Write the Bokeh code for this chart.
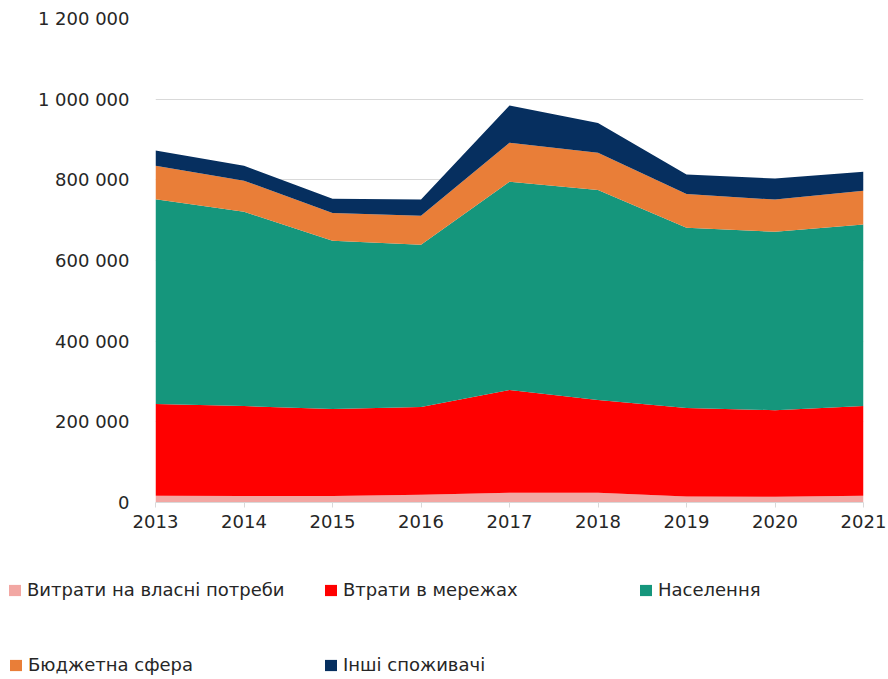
from bokeh.plotting import figure
from bokeh.layouts import column
from bokeh.models import ColumnDataSource, Legend, LegendItem, CustomJSTickFormatter, FixedTicker, Range1d
from bokeh.embed import file_html
from bokeh.resources import INLINE

years = [2013, 2014, 2015, 2016, 2017, 2018, 2019, 2020, 2021]
own_needs = [17000, 16000, 16000, 19000, 24000, 24000, 15000, 14000, 17000]
grid_losses = [227000, 223000, 216000, 218000, 255000, 230000, 219000, 215000, 222000]
population = [508000, 482000, 417000, 402000, 516000, 521000, 447000, 442000, 450000]
budget = [83000, 77000, 69000, 72000, 97000, 92000, 84000, 80000, 84000]
others = [38000, 37000, 35000, 40000, 92000, 74000, 48000, 52000, 47000]

names = ["Витрати на власні потреби", "Втрати в мережах", "Населення", "Бюджетна сфера", "Інші споживачі"]
keys = ["own", "loss", "pop", "bud", "oth"]
colors = ["#F2A7A3", "#FF0000", "#15967C", "#E97E38", "#062F5F"]
y_ticks = [0, 200000, 400000, 600000, 800000, 1000000, 1200000]

source = ColumnDataSource(dict(year=years, own=own_needs, loss=grid_losses, pop=population, bud=budget, oth=others))

FONT = "DejaVu Sans"
TXT = "#262626"
W = 888
H1 = 540
H2 = 139

p = figure(width=W, height=H1, output_backend="svg", toolbar_location=None,
           x_range=Range1d(2013, 2021), y_range=Range1d(0, 1200000),
           min_border_left=155, min_border_right=W - 863, min_border_top=18, min_border_bottom=H1 - 502)
p.outline_line_color = None

rends = p.varea_stack(stackers=keys, x="year", color=colors, source=source)

p.xaxis.ticker = FixedTicker(ticks=years)
p.yaxis.ticker = FixedTicker(ticks=y_ticks)
p.yaxis.formatter = CustomJSTickFormatter(code="return tick.toFixed(0).replace(/\\B(?=(\\d{3})+(?!\\d))/g, ' ');")
for ax in (p.xaxis, p.yaxis):
    ax.major_label_text_font = FONT
    ax.major_label_text_font_size = "18px"
    ax.major_label_text_color = TXT
    ax.minor_tick_line_color = None
p.yaxis.axis_line_color = None
p.yaxis.major_tick_line_color = None
p.yaxis.major_label_standoff = 20
p.xaxis.axis_line_color = "#d9d9d9"
p.xaxis.axis_line_width = 1
p.xaxis.major_tick_line_color = "#d9d9d9"
p.xaxis.major_tick_out = 5
p.xaxis.major_tick_in = 0
p.xaxis.major_label_standoff = 7
p.xgrid.grid_line_color = None
p.ygrid.grid_line_color = "#d9d9d9"
p.ygrid.grid_line_width = 1

# legend panel below the chart (swatches drawn from off-screen stand-in areas of the same colours)
lp = figure(width=W, height=H2, output_backend="svg", toolbar_location=None,
            x_range=Range1d(0, W), y_range=Range1d(0, H2),
            x_axis_location=None, y_axis_location=None, min_border=0)
lp.outline_line_color = None
lp.grid.visible = False
dummies = [lp.varea(x=[-100, -99], y1=[0, 0], y2=[1, 1], fill_color=c) for c in colors]

positions = [(7, 79), (323, 79), (638, 79), (8, 4), (323, 4)]
for r, name, pos in zip(dummies, names, positions):
    lg = Legend(items=[LegendItem(label=name, renderers=[r])], location=pos,
                padding=0, margin=0, border_line_color=None, background_fill_alpha=0,
                glyph_width=15, glyph_height=14, label_standoff=5,
                label_text_font=FONT, label_text_font_size="18px", label_text_color=TXT)
    lp.add_layout(lg, "center")

layout = column(p, column(lp, spacing=0), spacing=0)
open("out.html", "w").write(file_html(layout, INLINE))
